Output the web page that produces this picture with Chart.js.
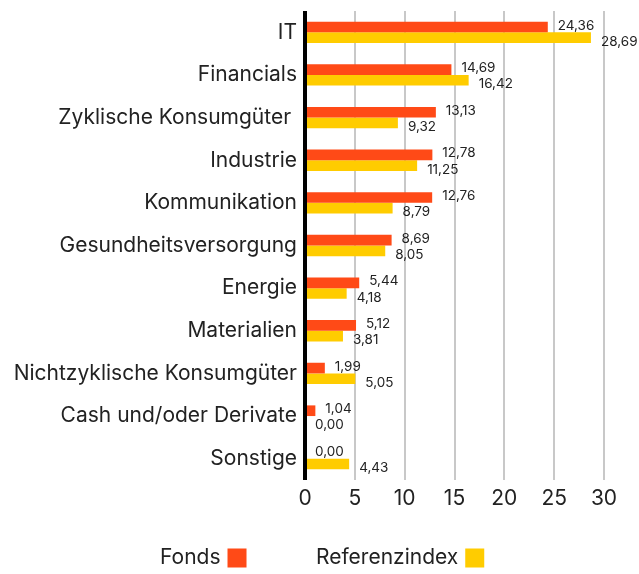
<!DOCTYPE html>
<html>
<head>
<meta charset="utf-8">
<script src="https://cdn.jsdelivr.net/npm/chart.js@4"></script>
<style>
html,body{margin:0;padding:0;background:#fff;}
#wrap{width:639px;height:574px;position:relative;}
</style>
</head>
<body>
<div id="wrap"><canvas id="c" width="639" height="574"></canvas></div>
<script>
const categories = ['IT','Financials','Zyklische Konsumgüter ','Industrie','Kommunikation','Gesundheitsversorgung','Energie','Materialien','Nichtzyklische Konsumgüter','Cash und/oder Derivate','Sonstige'];
const fondsValues = [24.36,14.69,13.13,12.78,12.76,8.69,5.44,5.12,1.99,1.04,0.00];
const refValues = [28.69,16.42,9.32,11.25,8.79,8.05,4.18,3.81,5.05,0.00,4.43];
const seriesNames = ['Fonds','Referenzindex'];
const xTicks = [0,5,10,15,20,25,30];

const FONT = 'Inter, "Noto Sans", sans-serif';
const ORANGE = '#FF4A17';
const YELLOW = '#FFCC00';

const valueLabels = {
  id:'valueLabels',
  afterDatasetsDraw(chart){
    const ctx = chart.ctx;
    ctx.save();
    ctx.font = '13.5px ' + FONT;
    ctx.fillStyle = '#222';
    ctx.textAlign = 'left';
    ctx.textBaseline = 'middle';
    chart.data.datasets.forEach((ds, di) => {
      const meta = chart.getDatasetMeta(di);
      meta.data.forEach((bar, i) => {
        const v = ds.data[i];
        const txt = v.toFixed(2).replace('.', ',');
        const dy = di === 0 ? -1.5 : 4;
        ctx.fillText(txt, bar.x + 10, bar.y + dy);
      });
    });
    ctx.restore();
  }
};

const legendPlugin = {
  id:'customLegend',
  afterDraw(chart){
    const ctx = chart.ctx;
    ctx.save();
    ctx.font = '21px ' + FONT;
    ctx.textBaseline = 'middle';
    ctx.textAlign = 'left';
    const starts = [160, 316];
    const y = 558;
    chart.data.datasets.forEach((ds, di) => {
      const x = starts[di];
      ctx.fillStyle = '#222';
      ctx.fillText(ds.label, x, y);
      const w = ctx.measureText(ds.label).width;
      ctx.fillStyle = ds.backgroundColor;
      ctx.fillRect(x + w + 7, y - 9.5, 19, 19);
    });
    ctx.restore();
  }
};

new Chart(document.getElementById('c'), {
  type:'bar',
  data:{
    labels: categories,
    datasets:[
      {label: seriesNames[0], data: fondsValues, backgroundColor: ORANGE, categoryPercentage:0.5, barPercentage:1},
      {label: seriesNames[1], data: refValues, backgroundColor: YELLOW, categoryPercentage:0.5, barPercentage:1}
    ]
  },
  options:{
    indexAxis:'y',
    responsive:false,
    animation:false,
    layout:{autoPadding:false, padding:{top:11, right:35, bottom:64, left:0}},
    plugins:{legend:{display:false}, tooltip:{enabled:false}},
    scales:{
      x:{
        min:0, max:30,
        afterBuildTicks(scale){ scale.ticks = xTicks.map(v => ({value:v})); },
        afterFit(scale){ scale.height = 30; scale.paddingLeft = 0; scale.paddingRight = 0; },
        grid:{
          color: c => c.tick && c.tick.value === 0 ? '#000' : '#c8c8c8',
          lineWidth: c => c.tick && c.tick.value === 0 ? 4 : 2,
          drawTicks:false
        },
        border:{display:false},
        ticks:{color:'#222', font:{family:FONT, size:21}, padding:6}
      },
      y:{
        grid:{display:false, drawTicks:false},
        border:{display:false},
        ticks:{color:'#222', font:{family:FONT, size:21}, padding:8},
        afterFit(scale){ scale.width = 305; scale.paddingTop = 0; scale.paddingBottom = 0; }
      }
    }
  },
  plugins:[valueLabels, legendPlugin]
});
</script>
</body>
</html>
